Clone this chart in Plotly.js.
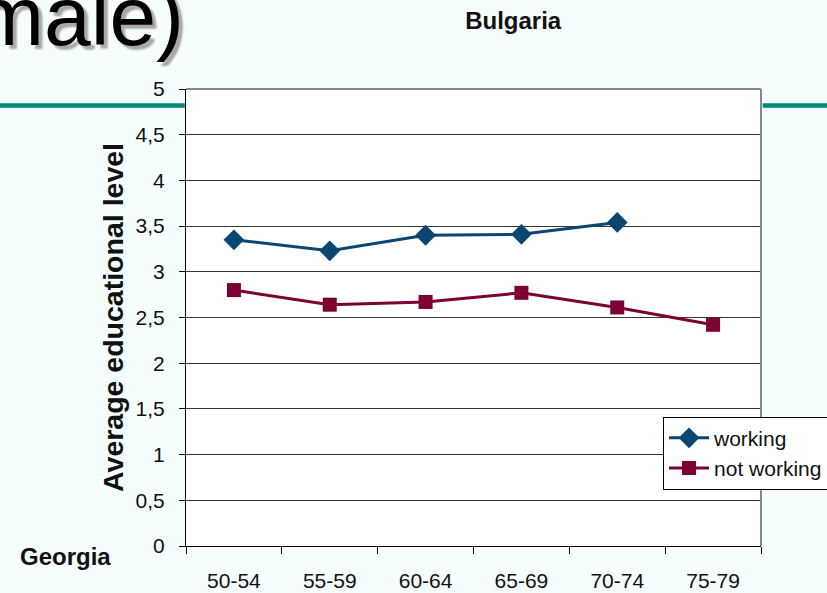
<!DOCTYPE html>
<html>
<head>
<meta charset="utf-8">
<script src="https://cdn.plot.ly/plotly-3.0.1.min.js"></script>
<style>
html,body{margin:0;padding:0;background:#f6fdfd;}
#chart{width:827px;height:593px;}
</style>
</head>
<body>
<div id="chart"></div>
<script>
const categories = ["50-54", "55-59", "60-64", "65-69", "70-74", "75-79"];
const working = [3.35, 3.23, 3.40, 3.41, 3.54, null];
const notWorking = [2.80, 2.64, 2.67, 2.77, 2.61, 2.42];
const yTickVals = [0, 0.5, 1, 1.5, 2, 2.5, 3, 3.5, 4, 4.5, 5];
const yTickText = ["0", "0,5", "1", "1,5", "2", "2,5", "3", "3,5", "4", "4,5", "5"];

const traces = [
  {
    x: categories, y: working, name: "working", type: "scatter", mode: "lines+markers",
    legendgroup: "a",
    line: {color: "#0a4672", width: 3},
    marker: {symbol: "diamond", size: 16, color: "#0a4672"},
    connectgaps: false
  },
  {
    x: categories, y: notWorking, name: "not working", type: "scatter", mode: "lines+markers",
    legendgroup: "b",
    line: {color: "#7c0032", width: 3},
    marker: {symbol: "square", size: 14, color: "#7c0032"}
  }
];

const layout = {
  width: 827, height: 593,
  margin: {l: 186, r: 66, t: 89, b: 47, autoexpand: false},
  paper_bgcolor: "#f6fdfd",
  plot_bgcolor: "#ffffff",
  font: {family: "Arial, 'Liberation Sans', sans-serif", size: 21, color: "#111"},
  title: {
    text: "<b>Bulgaria</b>",
    font: {size: 24, color: "#111"},
    x: 0.569, xref: "paper", xanchor: "center",
    y: 0.966, yref: "container", yanchor: "middle"
  },
  xaxis: {
    type: "category",
    range: [-0.5, 5.5],
    showgrid: false,
    showline: true, linecolor: "#000", linewidth: 1,
    ticks: "outside", tickson: "boundaries", ticklen: 7, tickcolor: "#000",
    ticklabelstandoff: 16,
    tickfont: {size: 21, color: "#111"},
    zeroline: false
  },
  yaxis: {
    range: [0, 5],
    tickvals: yTickVals, ticktext: yTickText,
    showgrid: true, gridcolor: "#333", gridwidth: 1,
    showline: true, linecolor: "#000", linewidth: 1,
    ticks: "outside", ticklen: 6, tickcolor: "#000",
    ticklabelstandoff: 10,
    tickfont: {size: 21, color: "#111"},
    zeroline: false,
    title: {text: "<b>Average educational level</b>", font: {size: 28.5, color: "#111"}, standoff: 3}
  },
  legend: {
    x: 0.8296, y: 0.283, xanchor: "left", yanchor: "top",
    bgcolor: "#ffffff", bordercolor: "#000", borderwidth: 1,
    font: {size: 21, color: "#111"},
    itemwidth: 40,
    tracegroupgap: 0
  },
  shapes: [
    {type: "line", xref: "paper", yref: "paper", x0: 0, x1: 1, y0: 1, y1: 1, line: {color: "#888", width: 2}},
    {type: "line", xref: "paper", yref: "paper", x0: 1, x1: 1, y0: 0, y1: 1, line: {color: "#888", width: 2}},
    {type: "line", xref: "paper", yref: "paper", x0: -0.33, x1: -0.002, y0: 0.964, y1: 0.964, line: {color: "#00897b", width: 4.5}},
    {type: "line", xref: "paper", yref: "paper", x0: 1.003, x1: 1.13, y0: 0.964, y1: 0.964, line: {color: "#00897b", width: 4.5}}
  ],
  annotations: [
    {
      text: "(female)", xref: "paper", yref: "paper",
      x: 0.0, y: 1.16, xanchor: "right", yanchor: "middle",
      showarrow: false,
      font: {size: 84, color: "#000", family: "Arial, 'Liberation Sans', sans-serif", shadow: "4px 4px 2px #a8a8a8"}
    },
    {
      text: "<b>Georgia</b>", xref: "paper", yref: "paper",
      x: -0.2104, y: -0.024, xanchor: "center", yanchor: "middle",
      showarrow: false,
      font: {size: 24, color: "#111"}
    }
  ]
};

Plotly.newPlot("chart", traces, layout, {displayModeBar: false, staticPlot: true});
</script>
</body>
</html>
